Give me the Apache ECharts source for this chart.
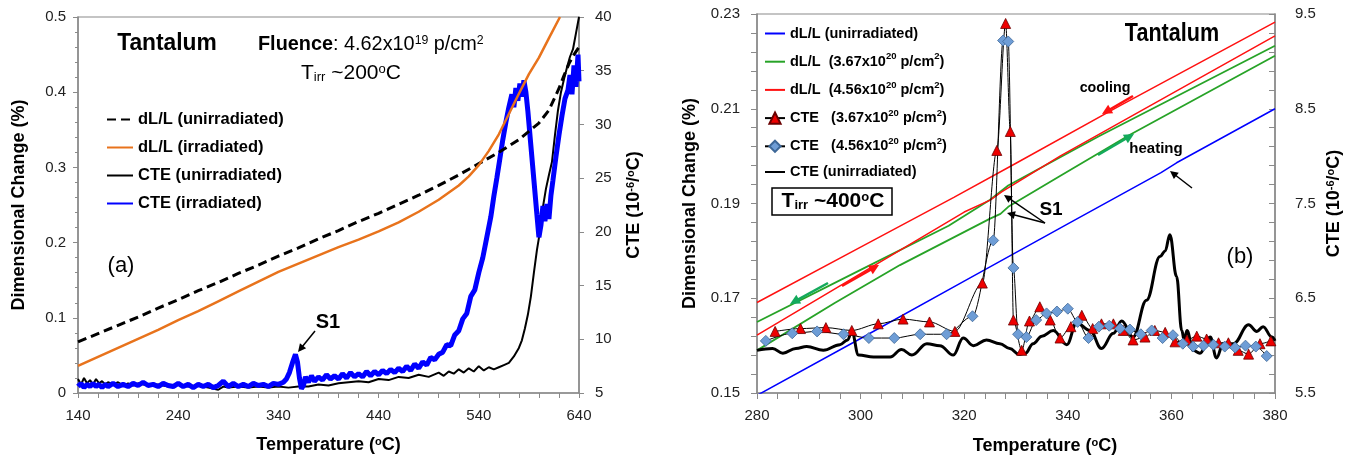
<!DOCTYPE html>
<html><head><meta charset="utf-8">
<script src="https://cdn.jsdelivr.net/npm/echarts@6/dist/echarts.min.js"></script>
<style>html,body{margin:0;padding:0;background:#fff}#c{width:1356px;height:460px}</style>
</head><body><div id="c"></div>
<script>
const FONT = "'Liberation Sans Narrow','Arial Narrow','Liberation Sans',Arial,sans-serif";

// ---------- Panel (a): Tantalum, Tirr ~200 C ----------
const xTicksA = [140, 240, 340, 440, 540, 640];
const dlUnirrA = [[140,0.068],[160,0.079],[180,0.090],[200,0.101],[220,0.113],[240,0.124],[260,0.136],[280,0.147],[300,0.159],[320,0.170],[340,0.182],[360,0.193],[380,0.205],[400,0.216],[420,0.228],[440,0.239],[460,0.251],[480,0.263],[500,0.276],[520,0.290],[540,0.305],[560,0.320],[580,0.337],[600,0.359],[610,0.376],[620,0.405],[625,0.422],[630,0.438],[635,0.450],[640,0.460]];
const dlIrrA = [[140,0.036],[160,0.048],[180,0.060],[200,0.072],[220,0.084],[240,0.097],[260,0.109],[280,0.122],[300,0.135],[320,0.148],[340,0.161],[360,0.172],[380,0.183],[400,0.194],[420,0.204],[440,0.215],[460,0.227],[480,0.241],[500,0.257],[520,0.276],[530,0.288],[540,0.303],[550,0.322],[560,0.344],[570,0.371],[580,0.398],[590,0.424],[600,0.446],[610,0.472],[621,0.500]];
const cteUnirrA = [[140,6.3],[143,5.8],[146,6.4],[149,5.9],[152,6.2],[155,5.8],[158,6.3],[161,5.9],[164,6.1],[167,5.8],[170,6.0],[175,5.8],[180,6.0],[185,5.7],[190,5.9],[195,5.7],[200,5.9],[210,5.7],[220,5.8],[230,5.6],[240,5.8],[250,5.6],[260,5.7],[270,5.5],[280,5.3],[285,5.6],[290,5.5],[300,5.6],[310,5.5],[320,5.6],[330,5.5],[340,5.6],[350,5.5],[360,5.6],[370,5.6],[380,5.8],[390,5.7],[400,5.9],[410,6.0],[420,6.1],[430,6.0],[440,6.3],[450,6.2],[460,6.5],[470,6.4],[480,6.7],[490,6.5],[500,6.9],[505,6.6],[510,7.0],[515,6.8],[520,7.2],[525,6.9],[530,7.3],[535,7.0],[540,7.5],[545,7.1],[550,7.4],[555,7.2],[560,7.4],[565,7.6],[570,7.8],[575,8.4],[580,9.2],[583,9.9],[586,11.0],[589,12.3],[592,14.0],[595,16.2],[598,18.3],[601,20.0],[604,22.3],[607,24.0],[610,25.3],[613,26.5],[616,29.0],[619,31.3],[622,33.0],[625,34.2],[628,35.3],[631,36.3],[634,37.0],[637,38.5],[640,40.0]];
const cteIrrA = [[140,5.6],[143,5.9],[146,5.5],[149,5.8],[152,5.6],[155,5.9],[158,5.6],[161,5.8],[164,5.5],[167,5.8],[170,5.6],[175,5.9],[180,5.6],[185,5.8],[190,5.6],[195,5.9],[200,5.7],[205,6.0],[210,5.7],[215,5.8],[220,5.6],[225,5.9],[230,5.7],[235,5.6],[240,5.9],[245,5.6],[250,5.8],[255,5.5],[260,5.8],[265,5.6],[270,5.8],[275,5.5],[280,5.7],[285,6.1],[290,5.6],[295,5.9],[300,5.6],[305,5.8],[310,5.6],[315,5.9],[320,5.7],[325,5.8],[330,5.6],[335,5.9],[340,5.8],[345,6.0],[348,6.3],[351,6.9],[354,7.8],[357,8.6],[359,7.9],[361,6.4],[363,5.4],[365,5.7],[367,6.5],[370,6.0],[373,6.6],[376,6.1],[380,6.5],[384,6.2],[388,6.7],[392,6.3],[396,6.6],[400,6.3],[404,6.8],[408,6.4],[412,6.9],[416,6.5],[420,6.8],[424,6.5],[428,7.0],[432,6.6],[436,7.0],[440,6.7],[444,7.1],[448,6.8],[452,7.2],[456,6.9],[460,7.3],[464,7.0],[468,7.5],[472,7.1],[476,7.7],[480,7.3],[484,7.9],[488,7.6],[492,8.3],[496,8.1],[500,8.6],[504,8.8],[508,9.5],[512,9.4],[516,10.4],[520,10.8],[524,11.9],[528,12.4],[532,14.0],[536,14.6],[540,16.2],[544,17.6],[548,19.5],[552,21.4],[555,23.3],[558,25.0],[561,26.8],[564,28.6],[567,30.2],[570,31.6],[573,32.8],[575,31.6],[577,33.4],[579,32.2],[581,33.8],[583,32.6],[585,34.1],[587,33.0],[589,31.2],[592,28.0],[595,24.8],[598,21.6],[600,19.5],[602,20.6],[604,22.4],[606,21.0],[608,22.6],[610,21.2],[612,23.4],[614,24.8],[617,27.0],[620,29.0],[623,30.8],[626,32.4],[629,33.2],[631,34.6],[633,32.8],[635,35.5],[637,33.5],[639,36.5],[640,34.0]];

// ---------- Panel (b): Tantalum, Tirr ~400 C ----------
const xTicksB = [280, 300, 320, 340, 360, 380];
const dlUnirrB = [[280,0.1495],[300,0.1615],[320,0.1736],[340,0.1857],[358,0.1965],[361,0.1986],[380,0.2100]];
const dl367Cool = [[280,0.1650],[300,0.1760],[317,0.1853],[325,0.1908],[328.5,0.1938],[346,0.2042],[380,0.2233]];
const dl367Heat = [[280,0.1590],[295,0.1690],[307.6,0.1770],[325,0.1868],[327,0.1878],[328.5,0.1893],[338.5,0.1958],[352,0.2045],[380,0.2212]];
const dl456Cool = [[280,0.1691],[300,0.1808],[318,0.1913],[330,0.1985],[350,0.2106],[380,0.2283]];
const dl456Heat = [[280,0.1622],[300,0.1752],[320,0.1882],[325,0.1907],[327.3,0.1925],[338.5,0.2000],[380,0.2254]];
const cteUnirrB = [[280,5.95],[283,5.97],[285,5.92],[287.5,5.97],[289.6,5.99],[292.8,5.95],[296,6.01],[297.5,6.06],[298.3,6.15],[299.6,5.90],[302.5,5.88],[305.7,5.88],[307.9,5.96],[309.9,5.90],[312.8,6.02],[315.3,6.00],[317.9,5.90],[319.8,6.08],[321.8,6.00],[324.3,6.06],[326.9,6.02],[328.8,5.97],[330.5,5.91],[331.8,5.92],[333.3,6.02],[335,6.10],[337.2,6.16],[339.8,6.01],[341.7,6.24],[344.3,6.16],[346.5,5.97],[348.8,6.13],[350.4,6.26],[352.6,6.09],[355.2,6.48],[357.8,6.94],[358.8,7.0],[359.7,7.17],[361,6.73],[362,6.16],[362.5,6.05],[363,6.16],[364.2,5.95],[365.5,5.92],[367.5,6.09],[368.7,5.87],[370,6.02],[372,6.02],[374.9,6.22],[376.5,6.15],[377.7,6.20],[379.4,6.09],[380,6.05]];
const cte367 = [[283.5,6.15],[288.4,6.18],[293.3,6.19],[298.3,6.16],[303.4,6.23],[308.2,6.28],[313.3,6.25],[318.2,6.15],[323.5,6.66],[326.3,8.06],[328.0,9.40],[328.9,8.26],[329.5,6.27],[331.1,5.95],[332.6,6.26],[334.6,6.41],[336.6,6.27],[338.5,6.08],[340.6,6.20],[342.7,6.32],[344.8,6.18],[346.5,6.23],[348.8,6.23],[350.7,6.16],[352.6,6.06],[354.9,6.09],[356.8,6.16],[358.8,6.14],[360.7,6.04],[363.0,6.06],[364.9,6.10],[366.8,6.07],[369.1,6.03],[371.0,6.03],[372.9,5.95],[374.9,5.91],[377.1,6.02],[379.2,6.05]];
const cte456 = [[281.7,6.05],[286.8,6.13],[291.6,6.15],[296.7,6.12],[301.6,6.08],[306.5,6.08],[311.5,6.12],[316.6,6.12],[321.6,6.31],[325.6,7.11],[327.5,9.22],[328.5,9.21],[329.5,6.82],[330.4,6.12],[332.0,6.09],[333.9,6.27],[335.9,6.34],[337.9,6.36],[340.0,6.39],[341.9,6.25],[344.0,6.08],[346.0,6.20],[348.0,6.21],[350.1,6.18],[352.0,6.17],[354.1,6.12],[356.2,6.16],[358.3,6.08],[360.3,6.11],[362.2,6.02],[364.2,5.99],[366.2,6.00],[368.1,6.01],[370.3,5.99],[372.3,5.98],[374.3,6.00],[376.3,5.99],[378.4,5.89]];

const AX = '#8a8a8a';
const LBL = {fontFamily: FONT, fontSize: 15, color: '#222'};
const NAME = {fontFamily: FONT, fontSize: 18, fontWeight: 'bold', color: '#000',
  rich: {n: {fontFamily: FONT, fontSize: 18, fontWeight: 'bold', color: '#000'},
         s: {fontFamily: FONT, fontSize: 11, fontWeight: 'bold', color: '#000', verticalAlign: 'top', lineHeight: 11}}};

function xAxisCfg(gi, min, max, step, labels, tickLen) {
  return {type: 'value', gridIndex: gi, min, max, interval: step,
    axisLine: {onZero: false, lineStyle: {color: AX, width: 1.5}},
    axisTick: {show: true, inside: false, length: tickLen, lineStyle: {color: AX}},
    axisLabel: {...LBL, margin: 15, formatter: v => labels.some(t => Math.abs(t - v) < 1e-6) ? String(v) : ''},
    splitLine: {show: false}};
}
function yAxisCfg(gi, pos, min, max, step, opts) {
  return Object.assign({type: 'value', gridIndex: gi, position: pos, min, max, interval: step,
    axisLine: {show: true, onZero: false, lineStyle: {color: AX, width: 1.5}},
    axisTick: {show: true, inside: false, length: 5, lineStyle: {color: AX}},
    splitLine: {show: false},
    nameLocation: 'middle', nameRotate: 90, nameTextStyle: NAME}, opts);
}

const legendNames = {
  'dL/L (unirradiated)': '{t|dL/L (unirradiated)}',
  'dL/L (irradiated)': '{t|dL/L (irradiated)}',
  'CTE (unirradiated)': '{t|CTE (unirradiated)}',
  'CTE (irradiated)': '{t|CTE (irradiated)}',
  'dL/L (unirradiated) [b]': '{t|dL/L (unirradiated)}',
  'dL/L (3.67x10^20 p/cm^2)': '{t|dL/L  (3.67x10}{s|20}{t| p/cm}{s|2}{t|)}',
  'dL/L (4.56x10^20 p/cm^2)': '{t|dL/L  (4.56x10}{s|20}{t| p/cm}{s|2}{t|)}',
  'CTE (3.67x10^20 p/cm^2)': '{t|CTE   (3.67x10}{s|20}{t| p/cm}{s|2}{t|)}',
  'CTE (4.56x10^20 p/cm^2)': '{t|CTE   (4.56x10}{s|20}{t| p/cm}{s|2}{t|)}',
  'CTE (unirradiated) [b]': '{t|CTE (unirradiated)}'
};
function legendText(size, sup, lh) {
  return {rich: {t: {fontFamily: FONT, fontSize: size, fontWeight: 'bold', color: '#000', lineHeight: lh},
                 s: {fontFamily: FONT, fontSize: sup, fontWeight: 'bold', color: '#000', verticalAlign: 'top', lineHeight: sup}}};
}
const noSym = n => ({name: n, itemStyle: {opacity: 0}});

function arrow(x1, y1, x2, y2, color, w, hl, hw) {
  const dx = x2 - x1, dy = y2 - y1, L = Math.hypot(dx, dy), ux = dx / L, uy = dy / L;
  const bx = x2 - ux * hl, by = y2 - uy * hl, px = -uy * hw, py = ux * hw;
  return [
    {type: 'line', z: 100, shape: {x1, y1, x2: bx + ux, y2: by + uy}, style: {stroke: color, lineWidth: w}},
    {type: 'polygon', z: 100, shape: {points: [[x2, y2], [bx + px, by + py], [bx - px, by - py]]}, style: {fill: color}}
  ];
}
function txt(x, y, text, size, bold, align, rich, sx) {
  const st = {x: 0, y: 0, text, fill: '#000', align: align || 'center', verticalAlign: 'middle',
    font: (bold ? 'bold ' : '') + size + 'px ' + FONT};
  if (rich) st.rich = rich;
  return {type: 'text', z: 100, x, y, scaleX: sx || 1, style: st};
}
const richBig = (n, s, b) => ({
  b: {fontFamily: FONT, fontSize: n, fontWeight: 'bold', fill: '#000'},
  n: {fontFamily: FONT, fontSize: n, fontWeight: b ? 'bold' : 'normal', fill: '#000'},
  s: {fontFamily: FONT, fontSize: s, fontWeight: b ? 'bold' : 'normal', fill: '#000', verticalAlign: 'top', lineHeight: s},
  u: {fontFamily: FONT, fontSize: s, fontWeight: b ? 'bold' : 'normal', fill: '#000', verticalAlign: 'bottom', lineHeight: s}
});

const RED = '#ff1111', GREEN = '#27a327', GARROW = '#14aa5c';

const graphics = [].concat(
  [txt(167, 43, 'Tantalum', 24, true, 'center', null, 0.95)],
  [txt(258, 44, '{b|Fluence}{n|: 4.62x10}{s|19}{n| p/cm}{s|2}', 21, false, 'left', richBig(21, 13, false), 0.945)],
  [txt(301, 73, '{n|T}{u|irr}{n| ~200}{s|o}{n|C}', 21, false, 'left', richBig(21, 13, false))],
  [txt(121, 266, '(a)', 22, false)],
  [txt(328, 322, 'S1', 20, true)],
  arrow(315, 331, 298, 352, '#000', 1.5, 8, 4),
  [txt(1172, 34, 'Tantalum', 26, true, 'center', null, 0.83)],
  [txt(1105, 88, 'cooling', 15, true, 'center', null, 0.95)],
  [txt(1156, 149, 'heating', 15, true)],
  [txt(1051, 210, 'S1', 19, true)],
  [txt(1240, 257, '(b)', 22, false)],
  [{type: 'rect', z: 99, shape: {x: 772, y: 188, width: 120, height: 27}, style: {fill: '#fff', stroke: '#000', lineWidth: 1.5}}],
  [txt(833, 201, '{n|T}{u|irr}{n| ~400}{s|o}{n|C}', 21, true, 'center', richBig(21, 13, true))],
  arrow(1133, 96, 1102, 114, RED, 2.5, 10, 5),
  arrow(1098, 155, 1134, 134, GARROW, 2.5, 10, 5),
  arrow(842, 286, 879, 265, RED, 2.5, 10, 5),
  arrow(828, 283, 790, 304, GARROW, 2.5, 10, 5),
  arrow(1192, 188, 1170, 171, '#000', 1.5, 8, 4),
  arrow(1045, 223, 1004, 195, '#000', 1.5, 8, 4),
  arrow(1045, 223, 1007, 213, '#000', 1.5, 8, 4),
  [txt(1045, 446, '{n|Temperature (}{s|o}{n|C)}', 18, true, 'center', richBig(18, 11, true))]
);

const lineS = (name, xi, yi, data, color, width, extra) => Object.assign({
  name, type: 'line', xAxisIndex: xi, yAxisIndex: yi, data, symbol: 'none', showSymbol: false,
  lineStyle: {color, width}, itemStyle: {color, opacity: 0}, emphasis: {disabled: true}, animation: false
}, extra || {});

const option = {
  animation: false,
  backgroundColor: '#fff',
  grid: [
    {left: 78, top: 17, width: 501, height: 376, show: true, borderColor: AX, borderWidth: 1.2, backgroundColor: 'transparent'},
    {left: 757, top: 14, width: 518, height: 379, show: true, borderColor: AX, borderWidth: 1.2, backgroundColor: 'transparent'}
  ],
  xAxis: [
    Object.assign(xAxisCfg(0, 140, 640, 20, xTicksA, 5), {name: '{n|Temperature (}{s|o}{n|C)}', nameLocation: 'middle', nameGap: 43, nameTextStyle: NAME}),
    xAxisCfg(1, 280, 380, 4, xTicksB, 6)
  ],
  yAxis: [
    yAxisCfg(0, 'left', 0, 0.5, 0.1, {name: 'Dimensional Change (%)', nameGap: 50,
      axisLabel: {...LBL, margin: 12},
      minorTick: {show: true, splitNumber: 5, length: 3, lineStyle: {color: AX}}, minorSplitLine: {show: false}}),
    yAxisCfg(0, 'right', 5, 40, 5, {name: '{n|CTE (10}{s|-6}{n|/}{s|o}{n|C)}', nameGap: 46,
      axisLabel: {...LBL, margin: 16}}),
    yAxisCfg(1, 'left', 0.15, 0.23, 0.02, {name: 'Dimensional Change (%)', nameGap: 58,
      axisLabel: {...LBL, margin: 17, formatter: v => v.toFixed(2)},
      axisTick: {show: true, inside: false, length: 6, lineStyle: {color: AX}},
      minorTick: {show: true, splitNumber: 5, length: 6, lineStyle: {color: AX}}, minorSplitLine: {show: false}}),
    yAxisCfg(1, 'right', 5.5, 9.5, 1, {name: '{n|CTE (10}{s|-6}{n|/}{s|o}{n|C)}', nameGap: 50,
      axisLabel: {...LBL, margin: 20, formatter: v => v.toFixed(1)},
      axisTick: {show: true, inside: true, length: 6, lineStyle: {color: AX}},
      minorTick: {show: true, splitNumber: 5, length: 6, lineStyle: {color: AX}}, minorSplitLine: {show: false}})
  ],
  legend: [
    {left: 106, top: 111, padding: 0, orient: 'vertical', itemWidth: 26, itemHeight: 14, itemGap: 11, selectedMode: false,
      data: [noSym('dL/L (unirradiated)'), noSym('dL/L (irradiated)'), noSym('CTE (unirradiated)'), noSym('CTE (irradiated)')],
      formatter: n => legendNames[n], textStyle: legendText(16.5, 11, 14)},
    {left: 764, top: 26, padding: 0, orient: 'vertical', itemWidth: 20, itemHeight: 14, itemGap: 10.7, selectedMode: false,
      data: [noSym('dL/L (unirradiated) [b]'), noSym('dL/L (3.67x10^20 p/cm^2)'), noSym('dL/L (4.56x10^20 p/cm^2)'), 'CTE (3.67x10^20 p/cm^2)', 'CTE (4.56x10^20 p/cm^2)', noSym('CTE (unirradiated) [b]')],
      formatter: n => legendNames[n], textStyle: legendText(14.5, 9.5, 20)}
  ],
  series: [
    lineS('CTE (unirradiated)', 0, 1, cteUnirrA, '#000', 2),
    lineS('CTE (irradiated)', 0, 1, cteIrrA, '#0000ff', 5),
    lineS('dL/L (unirradiated)', 0, 0, dlUnirrA, '#000', 3, {lineStyle: {color: '#000', width: 3, type: [9, 5]}}),
    lineS('dL/L (irradiated)', 0, 0, dlIrrA, '#e8731c', 2.5),

    lineS('dL/L (unirradiated) [b]', 1, 2, dlUnirrB, '#0000ff', 1.5),
    lineS('dL/L (3.67x10^20 p/cm^2)', 1, 2, dl367Cool, GREEN, 1.8),
    lineS('dL/L (3.67x10^20 p/cm^2) heating', 1, 2, dl367Heat, GREEN, 1.8),
    lineS('dL/L (4.56x10^20 p/cm^2)', 1, 2, dl456Cool, RED, 1.5),
    lineS('dL/L (4.56x10^20 p/cm^2) heating', 1, 2, dl456Heat, RED, 1.5),
    lineS('CTE (unirradiated) [b]', 1, 3, cteUnirrB, '#000', 3, {smooth: 0.4, smoothMonotone: 'x'}),
    {name: 'CTE (3.67x10^20 p/cm^2)', type: 'line', xAxisIndex: 1, yAxisIndex: 3, data: cte367,
      symbol: 'triangle', symbolSize: 10, showSymbol: true, smooth: 0.3, smoothMonotone: 'x',
      lineStyle: {color: '#000', width: 1}, itemStyle: {color: '#ee0000', borderColor: '#6b0000', borderWidth: 0.8},
      emphasis: {disabled: true}, animation: false},
    {name: 'CTE (4.56x10^20 p/cm^2)', type: 'line', xAxisIndex: 1, yAxisIndex: 3, data: cte456,
      symbol: 'diamond', symbolSize: 11, showSymbol: true, smooth: 0.3, smoothMonotone: 'x',
      lineStyle: {color: '#000', width: 1}, itemStyle: {color: '#6e9dd6', borderColor: '#3d6797', borderWidth: 0.8},
      emphasis: {disabled: true}, animation: false}
  ],
  graphic: graphics
};

const chart = echarts.init(document.getElementById('c'), null, {renderer: 'canvas'});
chart.setOption(option);
</script></body></html>
